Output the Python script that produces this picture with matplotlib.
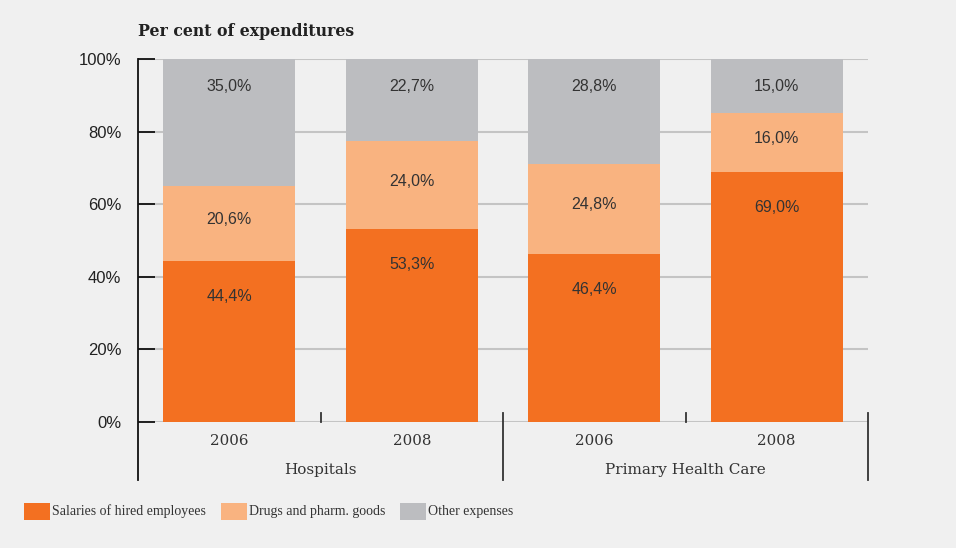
import matplotlib
matplotlib.use("Agg")
import matplotlib.pyplot as plt
import matplotlib.transforms as mtransforms
from matplotlib.lines import Line2D
from matplotlib.patches import Rectangle
import numpy as np

years = ["2006", "2008", "2006", "2008"]
groups = ["Hospitals", "Primary Health Care"]
salaries = [44.4, 53.3, 46.4, 69.0]
drugs = [20.6, 24.0, 24.8, 16.0]
other = [35.0, 22.7, 28.8, 15.0]
series_names = ["Salaries of hired employees", "Drugs and pharm. goods", "Other expenses"]
colors = ["#f37021", "#f9b380", "#bcbdc0"]
yticks = [0, 20, 40, 60, 80, 100]

BG = "#f0f0f0"
SERIF = "DejaVu Serif"
SANS = "Liberation Sans"

fig = plt.figure(figsize=(9.56, 5.48), dpi=100, facecolor=BG)
ax = fig.add_axes([138 / 956, 1 - 422 / 548, 730 / 956, 363 / 548])
ax.set_facecolor(BG)

x = np.arange(len(years))
w = 0.725
bottom = np.zeros(len(years))
stacks = [salaries, drugs, other]
for vals, c in zip(stacks, colors):
    ax.bar(x, vals, w, bottom=bottom, color=c, zorder=2, linewidth=0)
    bottom += np.array(vals)

# value labels
cum = np.zeros(len(years))
for k, vals in enumerate(stacks):
    for i, v in enumerate(vals):
        top = cum[i] + v
        txt = f"{v:.1f}%".replace(".", ",")
        if k == 1:
            ax.text(x[i], cum[i] + v / 2 + 1, txt, ha="center", va="center",
                    fontsize=11.5, family=SANS, color="#333333", zorder=3)
        else:
            off = -26 if k == 0 else -20
            ax.annotate(txt, (x[i], top), xytext=(0, off), textcoords="offset points",
                        ha="center", va="center", fontsize=11.5, family=SANS,
                        color="#333333", zorder=3)
    cum += np.array(vals)

ax.set_xlim(-0.5, 3.5)
ax.set_ylim(0, 100)
ax.set_yticks(yticks)
ax.set_yticklabels([f"{t}%" for t in yticks], family=SANS, fontsize=12, color="#222222")
ax.yaxis.grid(True, color="#c4c4c4", linewidth=1.5, zorder=0)
ax.tick_params(axis="y", direction="in", length=12, width=1.3, color="#111111", pad=12)
ax.tick_params(axis="x", length=0)
ax.set_xticks([])
for s in ["top", "right", "bottom", "left"]:
    ax.spines[s].set_visible(False)

trans = mtransforms.blended_transform_factory(ax.transData, ax.transAxes)
# left axis line running down past the group labels, plus separators
ax.add_line(Line2D([-0.5, -0.5], [1.0, -0.16], transform=trans, color="#111111",
                   lw=1.3, clip_on=False, zorder=4))
for xs in [0.5, 1.5, 2.5, 3.5]:
    lo = -0.16 if xs in (1.5, 3.5) else 0
    ax.add_line(Line2D([xs, xs], [lo, 0.025], transform=trans, color="#333333",
                       lw=1.3, clip_on=False, zorder=4))

for i, yr in enumerate(years):
    ax.text(x[i], -0.052, yr, transform=trans, ha="center", va="center",
            fontsize=10.8, color="#333333", family=SERIF)
for j, g in enumerate(groups):
    ax.text(0.5 + 2 * j, -0.132, g, transform=trans, ha="center", va="center",
            fontsize=11, color="#333333", family=SERIF)

fig.text(138 / 956, 1 - 32 / 548, "Per cent of expenditures", ha="left", va="center",
         fontsize=11.3, fontweight="bold", color="#222222", family=SERIF)

# legend
leg_x = [24, 221, 400]
for lx, name, c in zip(leg_x, series_names, colors):
    fig.add_artist(Rectangle((lx / 956, 1 - 520 / 548), 26 / 956, 17 / 548,
                             transform=fig.transFigure, color=c, linewidth=0))
    fig.text((lx + 28) / 956, 1 - 511 / 548, name, ha="left", va="center",
             fontsize=10, color="#333333", family="Liberation Serif")

fig.savefig("out.png", dpi=100, facecolor=BG)
